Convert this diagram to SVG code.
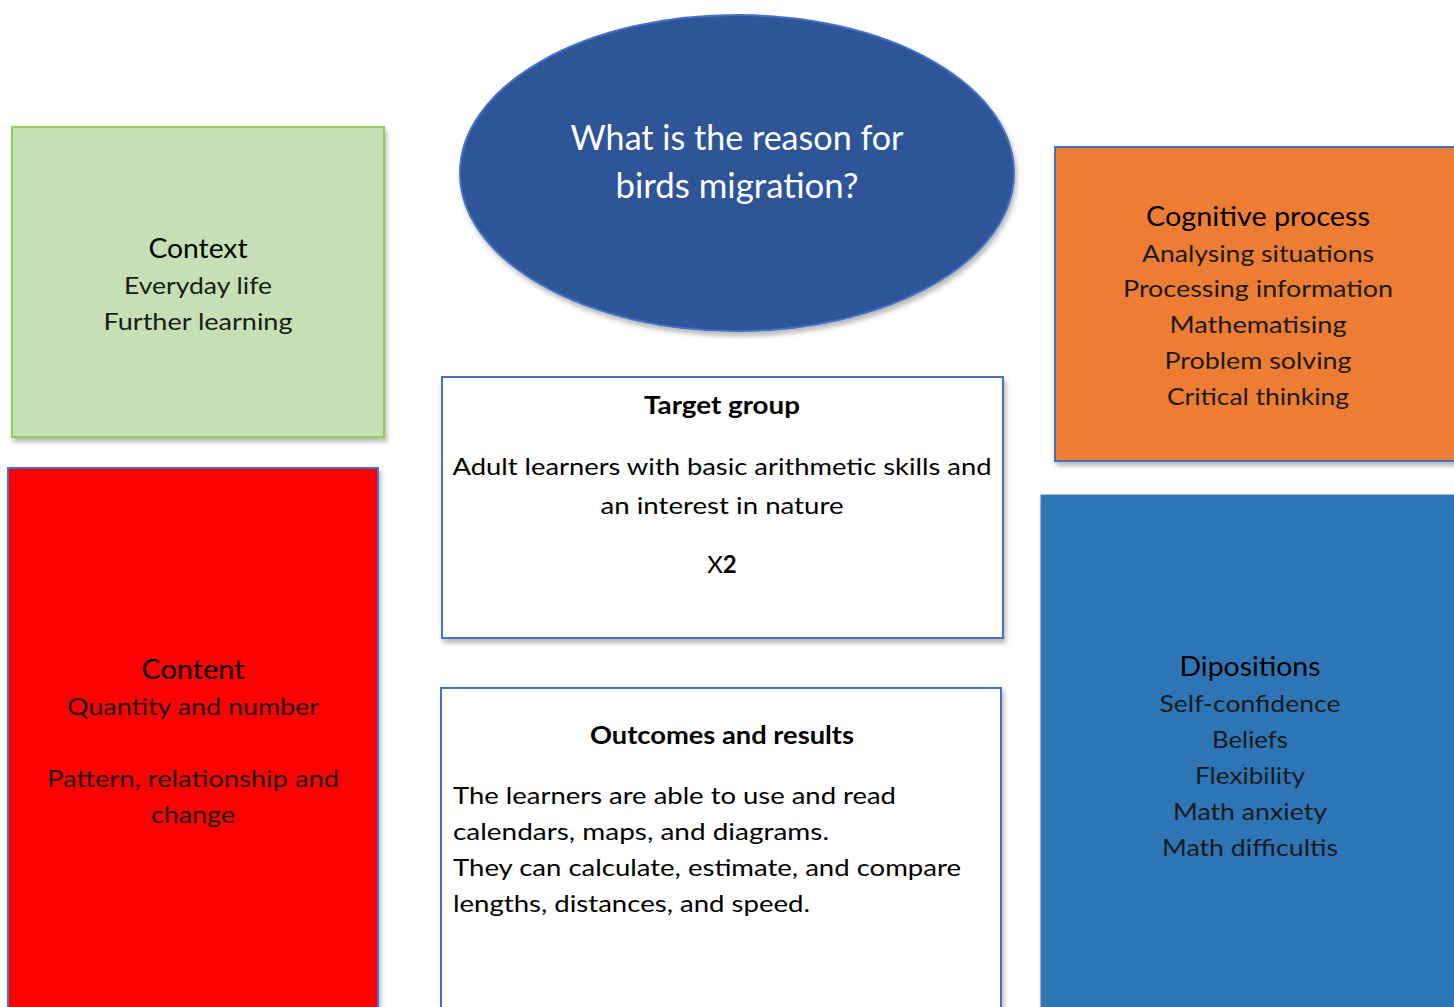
<svg xmlns="http://www.w3.org/2000/svg" width="1454" height="1007" viewBox="0 0 1454 1007">
<defs>
<filter id="sh" x="-5%" y="-5%" width="115%" height="115%">
<feDropShadow dx="2" dy="4" stdDeviation="2.5" flood-color="#000" flood-opacity="0.28"/>
</filter>
</defs>
<style>
.box{stroke:#4472C4;stroke-width:2;filter:url(#sh)}
.h{font-family:Lato,"Open Sans","Liberation Sans",sans-serif;font-size:27px;fill:#000;text-anchor:middle}
.b{font-family:Lato,"Open Sans","Liberation Sans",sans-serif;font-weight:400;font-size:24px;fill:#1a1a1a;text-anchor:middle}
.hb{font-family:Lato,"Open Sans","Liberation Sans",sans-serif;font-weight:bold;font-size:24px;fill:#000;text-anchor:middle}
.t{font-family:Lato,"Open Sans","Liberation Sans",sans-serif;font-size:24px;fill:#000}
.e{font-family:Lato,"Open Sans","Liberation Sans",sans-serif;font-size:35px;fill:#fff;text-anchor:middle}
</style>
<rect width="1454" height="1007" fill="#fff"/>
<g id="connectors"/>
<g id="context">
<rect class="box" x="12" y="127" width="372" height="310" fill="#C5E0B4" style="stroke:#8FD14F"/>
<text class="h" x="198" y="258" textLength="99" lengthAdjust="spacingAndGlyphs">Context</text>
<text class="b" x="198" y="294" textLength="148" lengthAdjust="spacingAndGlyphs">Everyday life</text>
<text class="b" x="198" y="330" textLength="189" lengthAdjust="spacingAndGlyphs">Further learning</text>
</g>
<g id="question">
<ellipse cx="737" cy="173" rx="277" ry="158" fill="#2F5597" stroke="#4472C4" stroke-width="2" filter="url(#sh)"/>
<text class="e" x="737" y="150" textLength="333" lengthAdjust="spacingAndGlyphs">What is the reason for</text>
<text class="e" x="737" y="198" textLength="243" lengthAdjust="spacingAndGlyphs">birds migration?</text>
</g>
<g id="cognitive">
<rect class="box" x="1055" y="147" width="410" height="314" fill="#ED7D31"/>
<text class="h" x="1258" y="226" textLength="224" lengthAdjust="spacingAndGlyphs">Cognitive process</text>
<text class="b" x="1258" y="262" textLength="232" lengthAdjust="spacingAndGlyphs">Analysing situations</text>
<text class="b" x="1258" y="297" textLength="270" lengthAdjust="spacingAndGlyphs">Processing information</text>
<text class="b" x="1258" y="333" textLength="177" lengthAdjust="spacingAndGlyphs">Mathematising</text>
<text class="b" x="1258" y="369" textLength="187" lengthAdjust="spacingAndGlyphs">Problem solving</text>
<text class="b" x="1258" y="405" textLength="182" lengthAdjust="spacingAndGlyphs">Critical thinking</text>
</g>
<g id="target">
<rect class="box" x="442" y="377" width="561" height="261" fill="#fff"/>
<text class="hb" x="722" y="414" textLength="156" lengthAdjust="spacingAndGlyphs">Target group</text>
<text class="t" x="722" y="475" text-anchor="middle" textLength="539" lengthAdjust="spacingAndGlyphs">Adult learners with basic arithmetic skills and</text>
<text class="t" x="722" y="514" text-anchor="middle" textLength="243" lengthAdjust="spacingAndGlyphs">an interest in nature</text>
<text class="t" x="722" y="573" text-anchor="middle">X<tspan font-weight="bold">2</tspan></text>
</g>
<g id="content">
<rect class="box" x="8" y="468" width="370" height="560" fill="#FF0000"/>
<text class="h" x="193" y="679" textLength="103" lengthAdjust="spacingAndGlyphs">Content</text>
<text class="b" x="193" y="715" textLength="252" lengthAdjust="spacingAndGlyphs">Quantity and number</text>
<text class="b" x="193" y="787" textLength="292" lengthAdjust="spacingAndGlyphs">Pattern, relationship and</text>
<text class="b" x="193" y="823" textLength="84" lengthAdjust="spacingAndGlyphs">change</text>
</g>
<g id="dispositions">
<rect class="box" x="1041" y="495" width="430" height="540" fill="#2E75B6" style="stroke-width:1"/>
<text class="h" x="1250" y="676" textLength="141" lengthAdjust="spacingAndGlyphs">Dipositions</text>
<text class="b" x="1250" y="712" textLength="181" lengthAdjust="spacingAndGlyphs">Self-confidence</text>
<text class="b" x="1250" y="748" textLength="76" lengthAdjust="spacingAndGlyphs">Beliefs</text>
<text class="b" x="1250" y="784" textLength="110" lengthAdjust="spacingAndGlyphs">Flexibility</text>
<text class="b" x="1250" y="820" textLength="154" lengthAdjust="spacingAndGlyphs">Math anxiety</text>
<text class="b" x="1250" y="856" textLength="176" lengthAdjust="spacingAndGlyphs">Math difficultis</text>
</g>
<g id="outcomes">
<rect class="box" x="441" y="688" width="560" height="340" fill="#fff"/>
<text class="hb" x="722" y="744" textLength="264" lengthAdjust="spacingAndGlyphs">Outcomes and results</text>
<text class="t" x="453" y="804" textLength="443" lengthAdjust="spacingAndGlyphs">The learners are able to use and read</text>
<text class="t" x="453" y="840" textLength="376" lengthAdjust="spacingAndGlyphs">calendars, maps, and diagrams.</text>
<text class="t" x="453" y="876" textLength="508" lengthAdjust="spacingAndGlyphs">They can calculate, estimate, and compare</text>
<text class="t" x="453" y="912" textLength="357" lengthAdjust="spacingAndGlyphs">lengths, distances, and speed.</text>
</g>
</svg>
